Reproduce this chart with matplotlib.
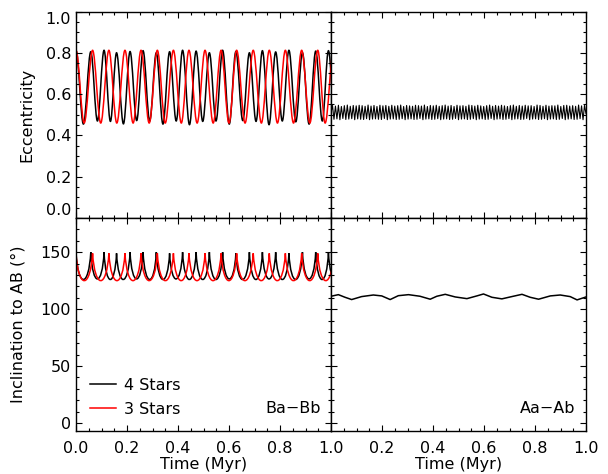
import numpy as np
import matplotlib
matplotlib.use("Agg")
import matplotlib.pyplot as plt
from matplotlib.ticker import MultipleLocator
from matplotlib.path import Path
from matplotlib.patches import PathPatch

# Ba-Bb, 4 stars (black): eccentricity extrema (peak, trough, peak, ...)
bb4_ecc_t = [0.000, 0.029, 0.058, 0.084, 0.110, 0.135, 0.159, 0.186, 0.212, 0.238,
             0.263, 0.289, 0.315, 0.341, 0.367, 0.393, 0.418, 0.445, 0.471, 0.497,
             0.523, 0.549, 0.575, 0.601, 0.627, 0.654, 0.680, 0.706, 0.731, 0.757,
             0.783, 0.809, 0.835, 0.862, 0.888, 0.914, 0.940, 0.966, 0.990, 1.016]
bb4_ecc = [0.81, 0.455, 0.805, 0.470, 0.812, 0.468, 0.800, 0.456, 0.806, 0.472,
           0.810, 0.470, 0.800, 0.455, 0.805, 0.470, 0.812, 0.452, 0.808, 0.468,
           0.800, 0.470, 0.812, 0.455, 0.806, 0.472, 0.800, 0.468, 0.810, 0.452,
           0.804, 0.470, 0.812, 0.466, 0.800, 0.455, 0.808, 0.470, 0.810, 0.460]

# Ba-Bb, 3 stars (red): eccentricity extrema
bb3_ecc_t = [0.000, 0.032, 0.065, 0.097, 0.129, 0.160, 0.192, 0.224, 0.255, 0.287,
             0.319, 0.350, 0.382, 0.413, 0.443, 0.475, 0.506, 0.538, 0.569, 0.600,
             0.630, 0.663, 0.695, 0.727, 0.758, 0.790, 0.821, 0.853, 0.885, 0.917,
             0.948, 0.977, 1.010]
bb3_ecc = [0.812, 0.460, 0.812, 0.460, 0.812, 0.460, 0.812, 0.460, 0.812, 0.460,
           0.812, 0.460, 0.812, 0.460, 0.812, 0.460, 0.812, 0.460, 0.812, 0.460,
           0.812, 0.460, 0.812, 0.460, 0.812, 0.460, 0.812, 0.460, 0.812, 0.460,
           0.812, 0.460, 0.812]

# Ba-Bb inclination (deg): times of the sharp maxima, maxima and minima
bb4_inc_peak_t = [0.000, 0.058, 0.110, 0.159, 0.212, 0.263, 0.315, 0.367, 0.418, 0.471,
                  0.523, 0.575, 0.627, 0.680, 0.731, 0.783, 0.835, 0.888, 0.940, 0.990,
                  1.042]
bb4_inc_peak = [150, 150, 150, 149, 150, 150, 150, 149, 150, 150,
                150, 150, 149, 150, 150, 150, 149, 150, 150, 150, 150]
bb4_inc_low = [126, 126.5, 126, 126, 126.5, 126, 126, 126.5, 126, 126,
               126, 126.5, 126, 126, 126.5, 126, 126, 126.5, 126, 126]

bb3_inc_peak_t = [0.000, 0.065, 0.129, 0.192, 0.255, 0.319, 0.382, 0.443, 0.506, 0.569,
                  0.630, 0.695, 0.758, 0.821, 0.885, 0.948, 1.011]
bb3_inc_peak = [149, 149, 149, 149, 149, 149, 149, 149, 149, 149,
                149, 149, 149, 149, 149, 149, 149]
bb3_inc_low = [125, 125, 125, 125, 125, 125, 125, 125, 125, 125,
               125, 125, 125, 125, 125, 125]

# Aa-Ab eccentricity extrema (fast oscillation)
aa_ecc = [0.510,
          0.545, 0.478, 0.542, 0.480, 0.546, 0.476, 0.540, 0.482, 0.544, 0.477,
          0.547, 0.479, 0.541, 0.481, 0.545, 0.476, 0.543, 0.480, 0.546, 0.478,
          0.544, 0.477, 0.541, 0.481, 0.547, 0.476, 0.542, 0.479, 0.545, 0.480,
          0.540, 0.478, 0.546, 0.477, 0.543, 0.482, 0.545, 0.476, 0.541, 0.479,
          0.546, 0.480, 0.542, 0.477, 0.544, 0.478, 0.547, 0.481, 0.540, 0.476,
          0.545, 0.479, 0.543, 0.480, 0.541, 0.477, 0.546, 0.478, 0.544, 0.482,
          0.542, 0.476, 0.547, 0.479, 0.540, 0.480, 0.545, 0.477, 0.543, 0.478,
          0.546, 0.481, 0.541, 0.476, 0.544, 0.479, 0.547, 0.480, 0.542, 0.477,
          0.545, 0.478, 0.540, 0.482, 0.546, 0.476, 0.543, 0.479, 0.544, 0.480,
          0.541, 0.477, 0.547, 0.478, 0.545, 0.481, 0.542, 0.476, 0.546, 0.479,
          0.543, 0.480, 0.540, 0.477, 0.544, 0.478, 0.547, 0.482, 0.541, 0.476,
          0.545, 0.479, 0.542, 0.480, 0.546, 0.477, 0.543, 0.478, 0.540, 0.481,
          0.544, 0.476, 0.547, 0.479, 0.541, 0.480, 0.545, 0.477, 0.542, 0.478,
          0.546, 0.482, 0.543, 0.476, 0.544, 0.479, 0.540, 0.480, 0.547, 0.477,
          0.545, 0.478, 0.541, 0.481, 0.546, 0.476, 0.542, 0.479, 0.544, 0.480,
          0.543, 0.477, 0.547, 0.478, 0.540, 0.482, 0.545, 0.476, 0.546, 0.479,
          0.542, 0.480, 0.544, 0.477, 0.541, 0.478, 0.547, 0.481, 0.543, 0.476,
          0.545, 0.505]

# Aa-Ab inclination (deg), slow wiggle
aa_inc_t = [0.000, 0.029, 0.055, 0.081, 0.120, 0.166, 0.199, 0.232, 0.264, 0.304,
            0.349, 0.389, 0.415, 0.448, 0.487, 0.533, 0.572, 0.598, 0.631, 0.670,
            0.709, 0.749, 0.781, 0.814, 0.860, 0.899, 0.938, 0.965, 1.000]
aa_inc = [111.3, 112.7, 110.4, 108.4, 111.0, 112.4, 111.6, 108.4, 111.8, 112.7,
          111.3, 108.7, 111.3, 113.0, 110.7, 109.2, 111.6, 113.3, 110.4, 109.0,
          111.0, 113.0, 110.4, 108.7, 111.6, 112.4, 111.0, 108.1, 110.7]

time_ticks = [0.0, 0.2, 0.4, 0.6, 0.8, 1.0]
ecc_ticks = [0.0, 0.2, 0.4, 0.6, 0.8, 1.0]
inc_ticks = [0, 50, 100, 150]


def smooth_between_extrema(ax, ts, vs, color, lw):
    # cubic bezier between successive extrema, flat at each extremum
    verts = [(ts[0], vs[0])]
    codes = [Path.MOVETO]
    for i in range(len(ts) - 1):
        dt = ts[i + 1] - ts[i]
        verts += [(ts[i] + 0.36 * dt, vs[i]), (ts[i + 1] - 0.36 * dt, vs[i + 1]),
                  (ts[i + 1], vs[i + 1])]
        codes += [Path.CURVE4] * 3
    ax.add_patch(PathPatch(Path(verts, codes), fill=False, edgecolor=color, lw=lw))


def cusped(ax, peak_t, peak_v, low_v, color, lw):
    # sharp maxima, broad minima: one cubic per cycle
    verts = [(peak_t[0], peak_v[0])]
    codes = [Path.MOVETO]
    for i in range(len(low_v)):
        t0, t1 = peak_t[i], peak_t[i + 1]
        v0, v1 = peak_v[i], peak_v[i + 1]
        c = (low_v[i] - 0.125 * (v0 + v1)) / 0.75
        dt = t1 - t0
        verts += [(t0 + 0.14 * dt, c), (t1 - 0.14 * dt, c), (t1, v1)]
        codes += [Path.CURVE4] * 3
    ax.add_patch(PathPatch(Path(verts, codes), fill=False, edgecolor=color, lw=lw))


fs = 11.5
fig = plt.figure(figsize=(6.08, 4.74), dpi=100)
L, M, R = 76 / 608, 331 / 608, 586 / 608
B, C, T = 1 - 431 / 474, 1 - 218 / 474, 1 - 11.5 / 474
ax_tl = fig.add_axes([L, C, M - L, T - C])
ax_tr = fig.add_axes([M, C, R - M, T - C])
ax_bl = fig.add_axes([L, B, M - L, C - B])
ax_br = fig.add_axes([M, B, R - M, C - B])

lw = 1.1
smooth_between_extrema(ax_tl, bb4_ecc_t, bb4_ecc, "black", lw)
smooth_between_extrema(ax_tl, bb3_ecc_t, bb3_ecc, "red", lw)
ax_tr.plot(np.linspace(0, 1, len(aa_ecc)), aa_ecc, color="black", lw=0.8)
cusped(ax_bl, bb4_inc_peak_t, bb4_inc_peak, bb4_inc_low, "black", lw)
cusped(ax_bl, bb3_inc_peak_t, bb3_inc_peak, bb3_inc_low, "red", lw)
ax_bl.plot([], [], color="black", lw=lw, label="4 Stars")
ax_bl.plot([], [], color="red", lw=lw, label="3 Stars")
ax_br.plot(aa_inc_t, aa_inc, color="black", lw=lw)

for ax in (ax_tl, ax_tr, ax_bl, ax_br):
    ax.set_xlim(0, 1)
    ax.set_xticks(time_ticks)
    ax.xaxis.set_minor_locator(MultipleLocator(0.05))
    ax.tick_params(which="both", direction="in", top=True, right=True,
                   labelsize=fs, width=0.8)
    ax.tick_params(which="major", length=4.5)
    ax.tick_params(which="minor", length=2.4)
    ax.tick_params(axis="x", pad=7)
    for s in ax.spines.values():
        s.set_linewidth(1.0)

for ax in (ax_tl, ax_tr):
    ax.set_ylim(0, 1.0)
    ax.set_yticks(ecc_ticks)
    ax.yaxis.set_minor_locator(MultipleLocator(0.05))
    ax.set_xticklabels([])
for ax in (ax_bl, ax_br):
    ax.set_ylim(-7, 180)
    ax.set_yticks(inc_ticks)
    ax.yaxis.set_minor_locator(MultipleLocator(10))
ax_tr.set_yticklabels([])
ax_br.set_yticklabels([])

ax_tl.set_yticklabels(["%.1f" % v for v in ecc_ticks])
ylab = ax_tl.get_yticklabels()
ylab[0].set_va("bottom")
ylab[-1].set_va("top")

ax_bl.set_xticklabels(["%.1f" % v for v in time_ticks])
ax_br.set_xticklabels([""] + ["%.1f" % v for v in time_ticks[1:]])

ax_tl.set_ylabel("Eccentricity", fontsize=fs, labelpad=8)
ax_bl.set_ylabel("Inclination to AB (°)", fontsize=fs, labelpad=11)
ax_bl.set_xlabel("Time (Myr)", fontsize=fs, labelpad=1)
ax_br.set_xlabel("Time (Myr)", fontsize=fs, labelpad=1)

ax_bl.legend(loc="lower left", frameon=False, fontsize=fs, handlelength=1.6,
             handletextpad=0.5, labelspacing=0.55, borderaxespad=0.5)
ax_bl.text(0.96, 0.105, "Ba\u2212Bb", transform=ax_bl.transAxes,
           ha="right", va="center", fontsize=fs)
ax_br.text(0.96, 0.105, "Aa\u2212Ab", transform=ax_br.transAxes,
           ha="right", va="center", fontsize=fs)

fig.savefig("out.png", dpi=100)
